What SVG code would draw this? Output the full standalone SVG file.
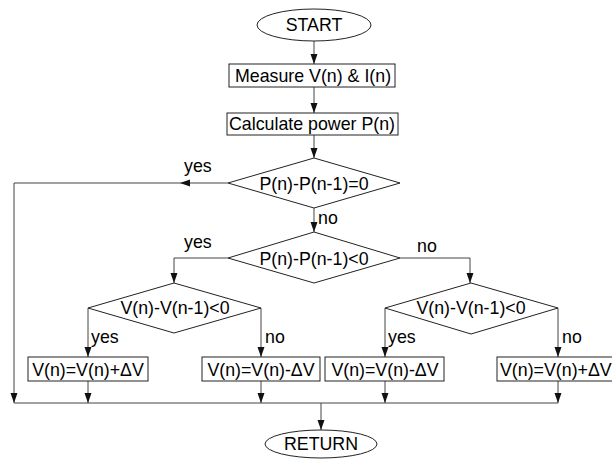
<svg xmlns="http://www.w3.org/2000/svg" width="612" height="461" viewBox="0 0 612 461">
<defs>
<marker id="ah" markerWidth="10" markerHeight="8" refX="10" refY="3.5" orient="auto" markerUnits="userSpaceOnUse">
<path d="M0,0 L10,3.5 L0,7 Z" fill="#111"/>
</marker>
<style>
.s{fill:#fff;stroke:#222;stroke-width:1}
.c{fill:none;stroke:#444;stroke-width:1}
.a{marker-end:url(#ah)}
text{font-family:"Liberation Sans",Arial,sans-serif;font-size:17.8px;fill:#000}
.m{text-anchor:middle}
</style>
</defs>
<rect width="612" height="461" fill="#fff"/>
<g id="connectors">
<path class="c a" d="M314,41 V64"/>
<path class="c a" d="M314,87 V113"/>
<path class="c a" d="M314,135 V158"/>
<path class="c a" d="M228,183 H180"/>
<path class="c a" d="M180,183 H14 V403"/>
<path class="c a" d="M314,208 V232"/>
<path class="c a" d="M228,258 H174 V283"/>
<path class="c a" d="M400,258 H470 V283"/>
<path class="c a" d="M88,308 V357"/>
<path class="c a" d="M261,308 V357"/>
<path class="c a" d="M385,308 V357"/>
<path class="c a" d="M558,308 V357"/>
<path class="c a" d="M88,381 V403"/>
<path class="c a" d="M261,381 V403"/>
<path class="c a" d="M385,381 V403"/>
<path class="c a" d="M558,381 V403"/>
<path class="c" d="M14,403 H558"/>
<path class="c a" d="M321,403 V430"/>
</g>
<g id="start"><ellipse class="s" cx="314" cy="25" rx="57" ry="16"/><text class="m" x="314" y="31">START</text></g>
<g id="measure"><rect class="s" x="229" y="64" width="166" height="23"/><text class="m" x="313" y="82">Measure V(n) &amp; I(n)</text></g>
<g id="calc"><rect class="s" x="227" y="113" width="171" height="22"/><text class="m" x="312" y="130">Calculate power P(n)</text></g>
<g id="d1"><polygon class="s" points="314,158 400,183 314,208 228,183"/><text class="m" x="314" y="190">P(n)-P(n-1)=0</text></g>
<g id="d2"><polygon class="s" points="314,232 400,258 314,283 228,258"/><text class="m" x="314" y="265">P(n)-P(n-1)&lt;0</text></g>
<g id="d3"><polygon class="s" points="174,283 261,308 174,333 88,308"/><text class="m" x="175" y="314">V(n)-V(n-1)&lt;0</text></g>
<g id="d4"><polygon class="s" points="471,283 558,308 471,334 385,308"/><text class="m" x="471" y="314">V(n)-V(n-1)&lt;0</text></g>
<g id="b1"><rect class="s" x="28" y="357" width="120" height="24"/><text class="m" x="88" y="376">V(n)=V(n)+ΔV</text></g>
<g id="b2"><rect class="s" x="202" y="357" width="118" height="24"/><text class="m" x="261" y="376">V(n)=V(n)-ΔV</text></g>
<g id="b3"><rect class="s" x="325" y="357" width="119" height="24"/><text class="m" x="385" y="376">V(n)=V(n)-ΔV</text></g>
<g id="b4"><rect class="s" x="497" y="357" width="130" height="24"/><text x="500" y="376">V(n)=V(n)+ΔV</text></g>
<g id="ret"><ellipse class="s" cx="321" cy="444" rx="56" ry="14"/><text class="m" x="321" y="450">RETURN</text></g>
<g id="labels">
<text x="184" y="172">yes</text>
<text x="318" y="224">no</text>
<text x="184" y="248">yes</text>
<text x="417" y="252">no</text>
<text x="91" y="343">yes</text>
<text x="265" y="343">no</text>
<text x="388" y="343">yes</text>
<text x="562" y="343">no</text>
</g>
</svg>
